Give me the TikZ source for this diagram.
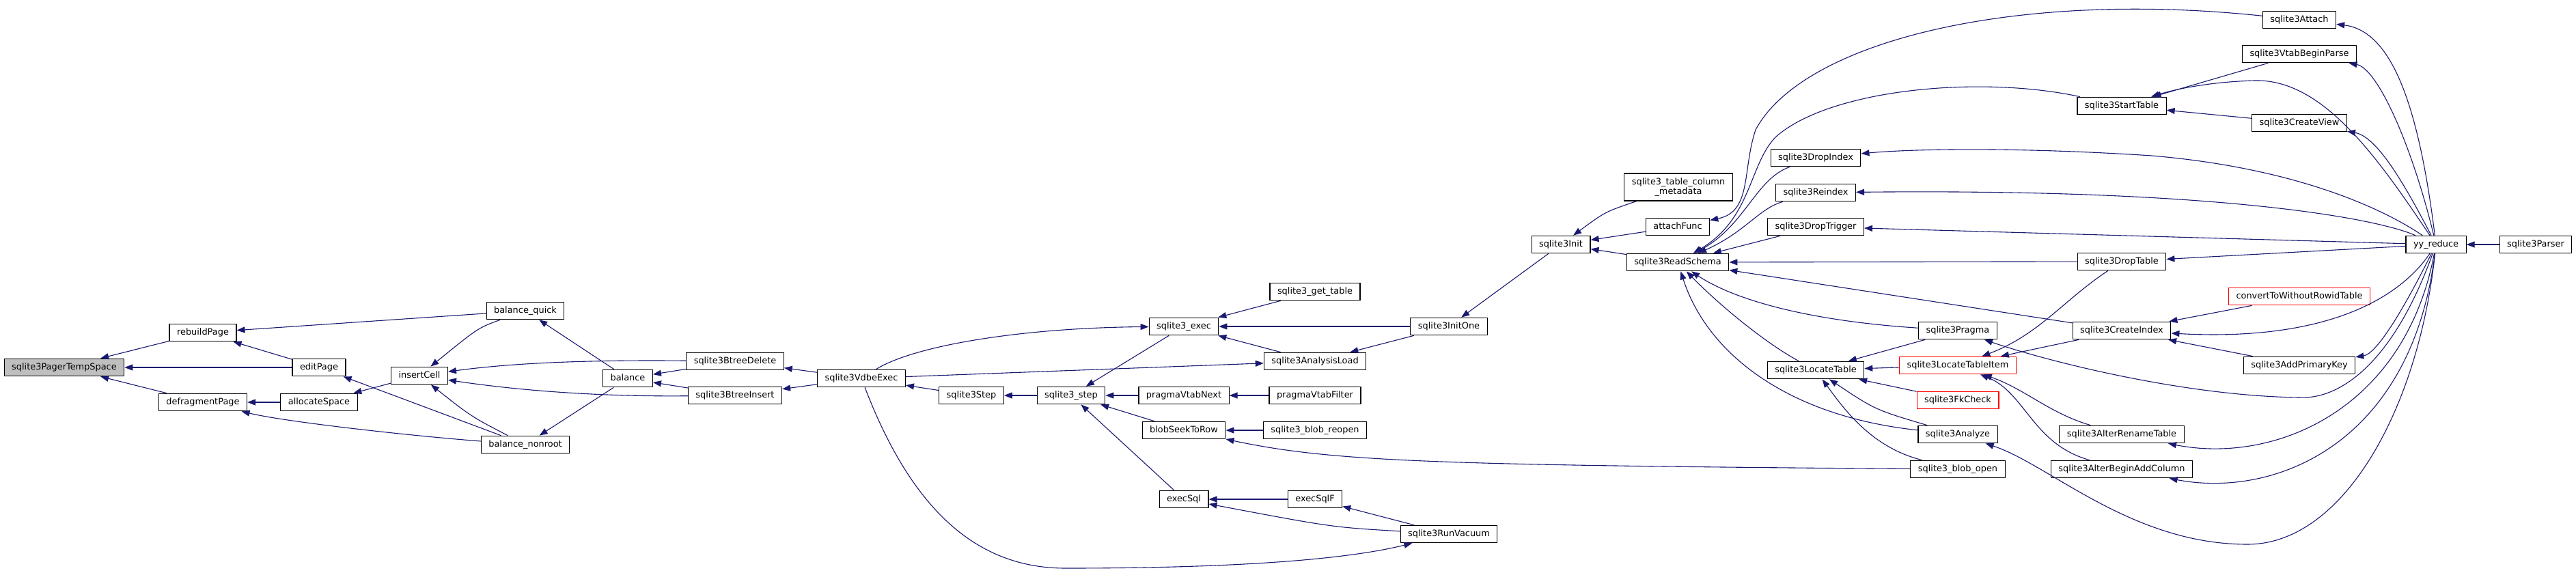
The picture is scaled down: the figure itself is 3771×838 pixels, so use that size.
\documentclass[tikz,border=0pt]{standalone}
\usepackage{fontspec}
\setmainfont{DejaVu Sans}
\usetikzlibrary{arrows.meta}
\definecolor{edgeblue}{HTML}{191970}
\definecolor{hlgray}{HTML}{BFBFBF}

\begin{document}
\begin{tikzpicture}[x=1pt, y=-1pt,
  every node/.style={font=\fontsize{12.9}{14.5}\selectfont},
  fnbox/.style={rectangle, draw=black, line width=1.1pt, fill=white,
                inner xsep=11pt, inner ysep=0pt},
  fn/.style={fnbox, minimum height=25.6pt, text height=9.4pt, text depth=3pt},
  fnhl/.style={fn, fill=hlgray},
  fntrunc/.style={fn, draw=red},
  fntwo/.style={fnbox, minimum height=40pt, align=center},
  arr/.style={-{Triangle[length=12pt, width=9pt]}, draw=edgeblue, line width=1.1pt},
]
\useasboundingbox (0,0) rectangle (3771,838);

\node[fnhl] (tmp) at (94,538) {sqlite3PagerTempSpace};
\node[fn] (rebuild) at (297,487) {rebuildPage};
\node[fn] (defrag) at (297,589) {defragmentPage};
\node[fn] (edit) at (467,538) {editPage};
\node[fn] (alloc) at (467,589) {allocateSpace};
\node[fn] (ins) at (614,550) {insertCell};
\node[fn] (bquick) at (769,455) {balance\_quick};
\node[fn] (bnonroot) at (769,651) {balance\_nonroot};
\node[fn] (bal) at (919,554) {balance};
\node[fn] (bdel) at (1076,529) {sqlite3BtreeDelete};
\node[fn] (bins) at (1076,579) {sqlite3BtreeInsert};
\node[fn] (vdbe) at (1261,554) {sqlite3VdbeExec};
\node[fn] (vstep) at (1422,579) {sqlite3Step};
\node[fn] (ustep) at (1568,579) {sqlite3\_step};
\node[fn] (exec) at (1733,478) {sqlite3\_exec};
\node[fn] (vnext) at (1733,579) {pragmaVtabNext};
\node[fn] (seek) at (1733,630) {blobSeekToRow};
\node[fn] (esql) at (1733,731) {execSql};
\node[fn] (gettable) at (1925,427) {sqlite3\_get\_table};
\node[fn] (aload) at (1925,529) {sqlite3AnalysisLoad};
\node[fn] (vfilter) at (1925,579) {pragmaVtabFilter};
\node[fn] (reopen) at (1925,630) {sqlite3\_blob\_reopen};
\node[fn] (esqlf) at (1925,731) {execSqlF};
\node[fn] (initone) at (2121,478) {sqlite3InitOne};
\node[fn] (vacuum) at (2121,782) {sqlite3RunVacuum};
\node[fn] (init) at (2285,358) {sqlite3Init};
\node[fntwo] (meta) at (2457,274) {sqlite3\_table\_column\\\_metadata};
\node[fn] (afunc) at (2456,332) {attachFunc};
\node[fn] (rschema) at (2456,384) {sqlite3ReadSchema};
\node[fn] (dropidx) at (2658,231) {sqlite3DropIndex};
\node[fn] (reidx) at (2658,282) {sqlite3Reindex};
\node[fn] (droptrig) at (2658,332) {sqlite3DropTrigger};
\node[fn] (locate) at (2658,542) {sqlite3LocateTable};
\node[fn] (pragma) at (2866,484) {sqlite3Pragma};
\node[fntrunc] (lti) at (2866,535) {sqlite3LocateTableItem};
\node[fntrunc] (fk) at (2866,586) {sqlite3FkCheck};
\node[fn] (analyze) at (2866,636) {sqlite3Analyze};
\node[fn] (bopen) at (2866,687) {sqlite3\_blob\_open};
\node[fn] (stable) at (3106,155) {sqlite3StartTable};
\node[fn] (droptab) at (3106,383) {sqlite3DropTable};
\node[fn] (cindex) at (3106,484) {sqlite3CreateIndex};
\node[fn] (arename) at (3106,636) {sqlite3AlterRenameTable};
\node[fn] (aaddcol) at (3106,687) {sqlite3AlterBeginAddColumn};
\node[fn] (attach) at (3366,29) {sqlite3Attach};
\node[fn] (vbegin) at (3366,79) {sqlite3VtabBeginParse};
\node[fn] (cview) at (3366,180) {sqlite3CreateView};
\node[fntrunc] (convert) at (3366,434) {convertToWithoutRowidTable};
\node[fn] (addpk) at (3366,535) {sqlite3AddPrimaryKey};
\node[fn] (yyr) at (3566,358) {yy\_reduce};
\node[fn] (parser) at (3712,358) {sqlite3Parser};

\draw[arr] (rebuild) -- (tmp);
\draw[arr] (edit) -- (tmp);
\draw[arr] (defrag) -- (tmp);
\draw[arr] (bquick) -- (rebuild);
\draw[arr] (edit) -- (rebuild);
\draw[arr] (bnonroot) -- (edit);
\draw[arr] (alloc) -- (defrag);
\draw[arr] (bnonroot) .. controls (600,638) and (420,618) .. (defrag);
\draw[arr] (ins) -- (alloc);
\draw[arr] (bquick) .. controls (700,480) .. (ins);
\draw[arr] (bnonroot) .. controls (690,610) .. (ins);
\draw[arr] (bdel) .. controls (880,527) and (760,530) .. (ins);
\draw[arr] (bins) .. controls (880,581) and (760,572) .. (ins);
\draw[arr] (bal) -- (bquick);
\draw[arr] (bal) -- (bnonroot);
\draw[arr] (bdel) -- (bal);
\draw[arr] (bins) -- (bal);
\draw[arr] (vdbe) -- (bdel);
\draw[arr] (vdbe) -- (bins);
\draw[arr] (vstep) -- (vdbe);
\draw[arr] (vdbe) .. controls (1340,505) and (1500,480) .. (exec);
\draw[arr] (vdbe) -- (aload);
\draw[arr] (vdbe) .. controls (1340,760) and (1440,832) .. (1560,832)
  .. controls (1780,832) and (1960,822) .. (vacuum);
\draw[arr] (ustep) -- (vstep);
\draw[arr] (exec) -- (ustep);
\draw[arr] (vnext) -- (ustep);
\draw[arr] (seek) -- (ustep);
\draw[arr] (esql) -- (ustep);
\draw[arr] (gettable) -- (exec);
\draw[arr] (initone) -- (exec);
\draw[arr] (aload) -- (exec);
\draw[arr] (vfilter) -- (vnext);
\draw[arr] (reopen) -- (seek);
\draw[arr] (bopen) .. controls (2100,681) and (1950,676) .. (seek);
\draw[arr] (esqlf) -- (esql);
\draw[arr] (vacuum) .. controls (1950,772) .. (esql);
\draw[arr] (vacuum) -- (esqlf);
\draw[arr] (initone) -- (aload);
\draw[arr] (init) -- (initone);
\draw[arr] (meta) .. controls (2350,310) .. (init);
\draw[arr] (afunc) -- (init);
\draw[arr] (rschema) -- (init);
\draw[arr] (attach) .. controls (2950,-15) and (2640,60) .. (2570,190)
  .. controls (2550,250) and (2565,310) .. (afunc);
\draw[arr] (stable) .. controls (2900,110) and (2680,130) .. (2600,200)
  .. controls (2560,240) and (2565,320) .. (rschema);
\draw[arr] (dropidx) .. controls (2570,262) and (2555,330) .. (rschema);
\draw[arr] (reidx) .. controls (2575,305) and (2555,340) .. (rschema);
\draw[arr] (droptrig) -- (rschema);
\draw[arr] (droptab) -- (rschema);
\draw[arr] (cindex) -- (rschema);
\draw[arr] (pragma) .. controls (2650,470) and (2540,440) .. (rschema);
\draw[arr] (locate) .. controls (2580,500) and (2510,440) .. (rschema);
\draw[arr] (analyze) .. controls (2620,610) and (2500,520) .. (rschema);
\draw[arr] (pragma) -- (locate);
\draw[arr] (lti) -- (locate);
\draw[arr] (fk) -- (locate);
\draw[arr] (analyze) .. controls (2745,600) .. (locate);
\draw[arr] (bopen) .. controls (2740,655) and (2700,600) .. (locate);
\draw[arr] (cindex) -- (lti);
\draw[arr] (droptab) .. controls (3020,440) and (2985,490) .. (lti);
\draw[arr] (arename) .. controls (3000,605) and (2965,570) .. (lti);
\draw[arr] (aaddcol) .. controls (2975,650) and (2965,575) .. (lti);
\draw[arr] (vbegin) -- (stable);
\draw[arr] (cview) -- (stable);
\draw[arr] (convert) -- (cindex);
\draw[arr] (addpk) -- (cindex);

\draw[arr] (yyr) .. controls (3540,150) and (3500,45) .. (attach);
\draw[arr] (yyr) .. controls (3530,210) and (3480,100) .. (vbegin);
\draw[arr] (yyr) .. controls (3480,230) and (3400,115) .. (3300,118)
  .. controls (3230,120) and (3180,132) .. (stable);
\draw[arr] (yyr) .. controls (3520,270) and (3480,200) .. (cview);
\draw[arr] (yyr) .. controls (3480,300) and (3350,245) .. (3150,228)
  .. controls (2950,215) and (2800,218) .. (dropidx);
\draw[arr] (yyr) .. controls (3480,320) and (3250,276) .. (reidx);
\draw[arr] (yyr) -- (droptrig);
\draw[arr] (yyr) -- (droptab);
\draw[arr] (yyr) .. controls (3510,440) and (3400,500) .. (cindex);
\draw[arr] (yyr) .. controls (3520,450) and (3480,518) .. (addpk);
\draw[arr] (yyr) .. controls (3500,540) and (3420,585) .. (3366,582)
  .. controls (3200,580) and (3000,530) .. (pragma);
\draw[arr] (yyr) .. controls (3520,600) and (3330,680) .. (arename);
\draw[arr] (yyr) .. controls (3530,650) and (3330,730) .. (aaddcol);
\draw[arr] (yyr) .. controls (3540,600) and (3430,797) .. (3290,797)
  .. controls (3120,797) and (3000,680) .. (analyze);
\draw[arr] (parser) -- (yyr);

\end{tikzpicture}
\end{document}
